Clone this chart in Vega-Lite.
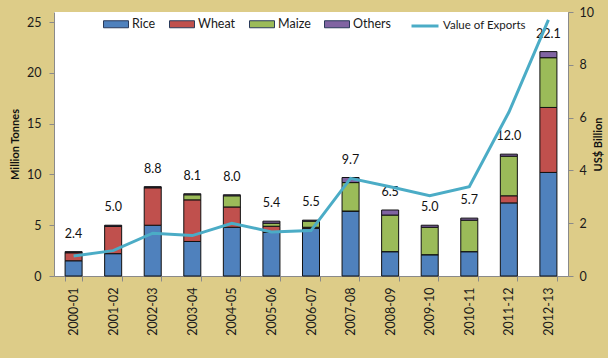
{
  "$schema": "https://vega.github.io/schema/vega-lite/v6.json",
  "width": 514,
  "height": 264,
  "autosize": "none",
  "padding": {"left": 54, "top": 12, "right": 40, "bottom": 82},
  "background": "#ddcc88",
  "config": {
    "view": {"fill": "white", "stroke": null},
    "font": "Lato",
    "axis": {
      "domainColor": "#8a8a8a",
      "tickColor": "#8a8a8a",
      "tickSize": 5,
      "labelColor": "#1a1a1a",
      "labelFontSize": 12.5,
      "labelFont": "Lato",
      "titleFont": "Lato",
      "titleFontWeight": "bold",
      "titleFontSize": 11,
      "titleColor": "#111111",
      "grid": false
    },
    "legend": {"padding": 0, "labelFont": "Lato", "labelFontSize": 12.5, "labelColor": "#1a1a1a", "labelOffset": 3, "columnPadding": 11}
  },
  "datasets": {
    "bars": [
      {"year": "2000-01", "type": "Rice", "tonnes": 1.5}, {"year": "2000-01", "type": "Wheat", "tonnes": 0.8}, {"year": "2000-01", "type": "Maize", "tonnes": 0.0}, {"year": "2000-01", "type": "Others", "tonnes": 0.1},
      {"year": "2001-02", "type": "Rice", "tonnes": 2.2}, {"year": "2001-02", "type": "Wheat", "tonnes": 2.7}, {"year": "2001-02", "type": "Maize", "tonnes": 0.0}, {"year": "2001-02", "type": "Others", "tonnes": 0.1},
      {"year": "2002-03", "type": "Rice", "tonnes": 5.0}, {"year": "2002-03", "type": "Wheat", "tonnes": 3.7}, {"year": "2002-03", "type": "Maize", "tonnes": 0.0}, {"year": "2002-03", "type": "Others", "tonnes": 0.1},
      {"year": "2003-04", "type": "Rice", "tonnes": 3.4}, {"year": "2003-04", "type": "Wheat", "tonnes": 4.1}, {"year": "2003-04", "type": "Maize", "tonnes": 0.5}, {"year": "2003-04", "type": "Others", "tonnes": 0.1},
      {"year": "2004-05", "type": "Rice", "tonnes": 4.8}, {"year": "2004-05", "type": "Wheat", "tonnes": 2.0}, {"year": "2004-05", "type": "Maize", "tonnes": 1.1}, {"year": "2004-05", "type": "Others", "tonnes": 0.1},
      {"year": "2005-06", "type": "Rice", "tonnes": 4.3}, {"year": "2005-06", "type": "Wheat", "tonnes": 0.6}, {"year": "2005-06", "type": "Maize", "tonnes": 0.3}, {"year": "2005-06", "type": "Others", "tonnes": 0.2},
      {"year": "2006-07", "type": "Rice", "tonnes": 4.7}, {"year": "2006-07", "type": "Wheat", "tonnes": 0.1}, {"year": "2006-07", "type": "Maize", "tonnes": 0.6}, {"year": "2006-07", "type": "Others", "tonnes": 0.1},
      {"year": "2007-08", "type": "Rice", "tonnes": 6.4}, {"year": "2007-08", "type": "Wheat", "tonnes": 0.0}, {"year": "2007-08", "type": "Maize", "tonnes": 2.8}, {"year": "2007-08", "type": "Others", "tonnes": 0.5},
      {"year": "2008-09", "type": "Rice", "tonnes": 2.4}, {"year": "2008-09", "type": "Wheat", "tonnes": 0.0}, {"year": "2008-09", "type": "Maize", "tonnes": 3.6}, {"year": "2008-09", "type": "Others", "tonnes": 0.5},
      {"year": "2009-10", "type": "Rice", "tonnes": 2.1}, {"year": "2009-10", "type": "Wheat", "tonnes": 0.0}, {"year": "2009-10", "type": "Maize", "tonnes": 2.7}, {"year": "2009-10", "type": "Others", "tonnes": 0.2},
      {"year": "2010-11", "type": "Rice", "tonnes": 2.4}, {"year": "2010-11", "type": "Wheat", "tonnes": 0.0}, {"year": "2010-11", "type": "Maize", "tonnes": 3.1}, {"year": "2010-11", "type": "Others", "tonnes": 0.2},
      {"year": "2011-12", "type": "Rice", "tonnes": 7.2}, {"year": "2011-12", "type": "Wheat", "tonnes": 0.7}, {"year": "2011-12", "type": "Maize", "tonnes": 3.9}, {"year": "2011-12", "type": "Others", "tonnes": 0.2},
      {"year": "2012-13", "type": "Rice", "tonnes": 10.2}, {"year": "2012-13", "type": "Wheat", "tonnes": 6.4}, {"year": "2012-13", "type": "Maize", "tonnes": 4.9}, {"year": "2012-13", "type": "Others", "tonnes": 0.6}
    ],
    "totals": [
      {"year": "2000-01", "total": 2.4}, {"year": "2001-02", "total": 5.0}, {"year": "2002-03", "total": 8.8}, {"year": "2003-04", "total": 8.1},
      {"year": "2004-05", "total": 8.0}, {"year": "2005-06", "total": 5.4}, {"year": "2006-07", "total": 5.5}, {"year": "2007-08", "total": 9.7},
      {"year": "2008-09", "total": 6.5}, {"year": "2009-10", "total": 5.0}, {"year": "2010-11", "total": 5.7}, {"year": "2011-12", "total": 12.0},
      {"year": "2012-13", "total": 22.1}
    ],
    "exports": [
      {"year": "2000-01", "value": 0.76}, {"year": "2001-02", "value": 0.96}, {"year": "2002-03", "value": 1.62}, {"year": "2003-04", "value": 1.53},
      {"year": "2004-05", "value": 2.0}, {"year": "2005-06", "value": 1.67}, {"year": "2006-07", "value": 1.72}, {"year": "2007-08", "value": 3.7},
      {"year": "2008-09", "value": 3.38}, {"year": "2009-10", "value": 3.04}, {"year": "2010-11", "value": 3.38}, {"year": "2011-12", "value": 6.2},
      {"year": "2012-13", "value": 9.7}
    ]
  },
  "layer": [
    {
      "layer": [
        {
          "data": {"name": "bars"},
          "transform": [{"calculate": "indexof(['Rice','Wheat','Maize','Others'], datum.type)", "as": "k"}],
          "mark": {"type": "bar", "stroke": "#111111", "strokeWidth": 1},
          "encoding": {
            "x": {
              "field": "year", "type": "ordinal",
              "scale": {"paddingInner": 0.57, "paddingOuter": 0.28},
              "axis": {"title": null, "labelAngle": 270, "labelPadding": 6, "tickBand": "extent", "labelFontSize": 12.5}
            },
            "y": {
              "field": "tonnes", "type": "quantitative", "stack": "zero",
              "scale": {"domain": [0, 25]},
              "axis": {"title": "Million Tonnes", "values": [0, 5, 10, 15, 20, 25], "labelPadding": 8, "titlePadding": 6}
            },
            "color": {
              "field": "type", "type": "nominal",
              "scale": {"domain": ["Rice", "Wheat", "Maize", "Others"], "range": ["#4F81BD", "#C0504D", "#9BBB59", "#8064A2"]},
              "legend": {
                "title": null, "orient": "none", "direction": "horizontal", "columns": 4,
                "legendX": 49, "legendY": -1,
                "symbolType": "M-1,-0.28L1,-0.28L1,0.28L-1,0.28Z", "symbolSize": 625,
                "symbolStrokeColor": "#2a3a5a", "symbolStrokeWidth": 1
              }
            },
            "order": {"field": "k", "type": "quantitative"}
          }
        },
        {
          "data": {"name": "totals"},
          "mark": {"type": "text", "dy": -18, "fontSize": 12.5, "color": "#111111", "baseline": "middle"},
          "encoding": {
            "x": {"field": "year", "type": "ordinal"},
            "y": {"field": "total", "type": "quantitative"},
            "text": {"field": "total", "type": "quantitative", "format": ".1f"}
          }
        }
      ]
    },
    {
      "data": {"name": "exports"},
      "mark": {"type": "line", "strokeWidth": 3},
      "encoding": {
        "x": {"field": "year", "type": "ordinal"},
        "y": {
          "field": "value", "type": "quantitative",
          "scale": {"domain": [0, 10]},
          "axis": {"orient": "right", "title": "US$ Billion", "titleAngle": 270, "titleBaseline": "bottom", "values": [0, 2, 4, 6, 8, 10], "labelPadding": 6, "titlePadding": 10}
        },
        "stroke": {
          "datum": "Value of Exports", "type": "nominal",
          "scale": {"domain": ["Value of Exports"], "range": ["#4BACC6"]},
          "legend": {
            "title": null, "orient": "none", "legendX": 356, "legendY": -1,
            "symbolType": "stroke", "symbolSize": 729, "symbolStrokeWidth": 3, "labelFontSize": 11.5
          }
        }
      }
    }
  ],
  "resolve": {"scale": {"y": "independent"}}
}
